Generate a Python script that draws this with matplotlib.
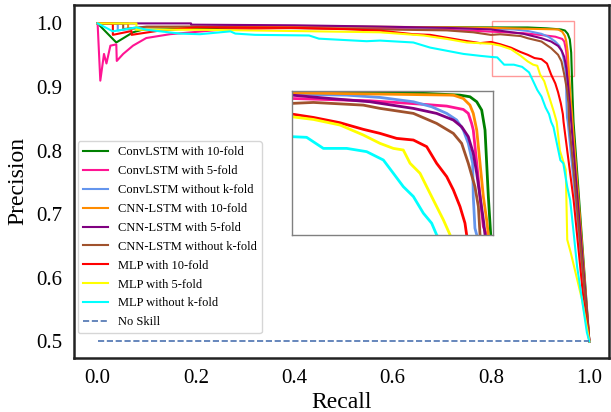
import matplotlib
matplotlib.use("Agg")
import matplotlib.pyplot as plt
from matplotlib.patches import Rectangle

plt.rcParams['font.family'] = ['Liberation Serif', 'DejaVu Serif']

labels = ['ConvLSTM with 10-fold', 'ConvLSTM with 5-fold', 'ConvLSTM without k-fold',
          'CNN-LSTM with 10-fold', 'CNN-LSTM with 5-fold', 'CNN-LSTM without k-fold',
          'MLP with 10-fold', 'MLP with 5-fold', 'MLP without k-fold']
colors = ['green', 'deeppink', 'cornflowerblue', 'darkorange', 'purple', 'sienna',
          'red', 'yellow', 'cyan']

# recall / precision
conv10_r = [0, 0.038, 0.072, 0.089, 0.15, 0.30, 0.50, 0.70, 0.838, 0.8745, 0.9138, 0.9419,
            0.9503, 0.9560, 0.9602, 0.9630, 0.9644, 0.9658, 0.9678, 1.0]
conv10_p = [1.0, 0.970, 0.986, 0.9896, 0.991, 0.993, 0.994, 0.994, 0.9936, 0.9936, 0.9922, 0.9905,
            0.9888, 0.9836, 0.9749, 0.9542, 0.9196, 0.8850, 0.8452, 0.5]

conv5_r = [0, 0.0055, 0.013, 0.018, 0.026, 0.038, 0.039, 0.052, 0.072, 0.099, 0.147, 0.25, 0.40,
           0.60, 0.75, 0.80, 0.866, 0.9082, 0.9307, 0.9447, 0.9489, 0.9517, 0.9531, 0.9560,
           0.9588, 0.9616, 0.9644, 1.0]
conv5_p = [1.0, 0.910, 0.952, 0.937, 0.965, 0.967, 0.941, 0.952, 0.965, 0.977, 0.983, 0.990, 0.993,
           0.992, 0.989, 0.9870, 0.9846, 0.9812, 0.9791, 0.9756, 0.9715, 0.9611, 0.9542, 0.9196,
           0.8850, 0.8538, 0.8452, 0.5]

convno_r = [0, 0.041, 0.041, 0.10, 0.30, 0.50, 0.70, 0.80, 0.8464, 0.8745, 0.9026, 0.9180, 0.9307,
            0.9391, 0.9447, 0.9489, 0.9526, 0.9531, 0.9545, 0.9560, 1.0]
convno_p = [1.0, 1.0, 0.989, 0.994, 0.995, 0.995, 0.993, 0.9915, 0.9905, 0.9881, 0.9836, 0.9784,
            0.9715, 0.9646, 0.9542, 0.9403, 0.9196, 0.8850, 0.8521, 0.8452, 0.5]

cnn10_r = [0, 0.062, 0.062, 0.10, 0.30, 0.50, 0.70, 0.80, 0.9363, 0.9447, 0.9503, 0.9531, 0.9560,
           0.9588, 0.9616, 0.9644, 0.9658, 1.0]
cnn10_p = [1.0, 1.0, 0.991, 0.994, 0.995, 0.995, 0.994, 0.9929, 0.9905, 0.9870, 0.9801, 0.9715,
           0.9542, 0.9196, 0.8850, 0.8607, 0.8452, 0.5]

cnn5_r = [0, 0.19, 0.19, 0.40, 0.574, 0.71, 0.80, 0.8323, 0.8660, 0.9026, 0.9222, 0.9363, 0.9433,
          0.9489, 0.9531, 0.9560, 0.9588, 0.9616, 0.9630, 1.0]
cnn5_p = [1.0, 1.0, 0.998, 0.997, 0.995, 0.993, 0.9905, 0.9870, 0.9836, 0.9767, 0.9715, 0.9646,
          0.9576, 0.9473, 0.9300, 0.9092, 0.8850, 0.8607, 0.8452, 0.5]

cnnno_r = [0, 0.052, 0.052, 0.10, 0.19, 0.35, 0.574, 0.71, 0.764, 0.80, 0.8183, 0.8604, 0.8745,
           0.9026, 0.9222, 0.9363, 0.9433, 0.9489, 0.9545, 0.9574, 0.9588, 1.0]
cnnno_p = [1.0, 1.0, 0.991, 0.995, 0.995, 0.993, 0.9905, 0.989, 0.986, 0.9819, 0.9829, 0.9801,
           0.9767, 0.9715, 0.9611, 0.9507, 0.9403, 0.9196, 0.8953, 0.8746, 0.8452, 0.5]

mlp10_r = [0, 0.031, 0.031, 0.069, 0.069, 0.12, 0.20, 0.40, 0.50, 0.574, 0.642, 0.676, 0.744, 0.778,
           0.80, 0.8183, 0.8407, 0.8604, 0.8745, 0.8885, 0.9026, 0.9138, 0.9222, 0.9307, 0.9363,
           0.9419, 0.9461, 0.9475, 0.955, 0.968, 0.988, 1.0]
mlp10_p = [1.0, 1.0, 0.982, 0.988, 0.982, 0.988, 0.9937, 0.993, 0.991, 0.9886, 0.983, 0.982, 0.973,
           0.969, 0.9708, 0.9673, 0.9618, 0.9549, 0.9507, 0.9455, 0.9438, 0.9369, 0.9196, 0.9057,
           0.8919, 0.8746, 0.8573, 0.8452, 0.80, 0.722, 0.566, 0.5]

mlp5_r = [0, 0.079, 0.079, 0.20, 0.40, 0.574, 0.663, 0.71, 0.751, 0.80, 0.8183, 0.8407, 0.8604,
          0.8745, 0.8857, 0.8941, 0.8998, 0.9082, 0.9138, 0.9208, 0.9279, 0.9335, 0.94, 0.952,
          0.955, 0.962, 0.985, 1.0]
mlp5_p = [1.0, 1.0, 0.990, 0.990, 0.988, 0.986, 0.981, 0.9756, 0.970, 0.9680, 0.9652, 0.9594,
          0.9490, 0.9403, 0.9351, 0.9334, 0.9196, 0.9092, 0.8953, 0.8781, 0.8607, 0.8452, 0.80,
          0.77, 0.66, 0.64, 0.566, 0.5]

mlpno_r = [0, 0.031, 0.079, 0.10, 0.167, 0.208, 0.27, 0.28, 0.32, 0.43, 0.45, 0.547, 0.574, 0.642,
           0.676, 0.71, 0.744, 0.778, 0.80, 0.8126, 0.8267, 0.8464, 0.8632, 0.8773, 0.8857, 0.8941,
           0.9026, 0.9110, 0.9180, 0.9222, 0.927, 0.941, 0.947, 0.955, 0.961, 0.968, 0.975, 0.985,
           0.995, 1.0]
mlpno_p = [1.0, 0.9875, 0.9937, 0.990, 0.984, 0.983, 0.9875, 0.984, 0.982, 0.981, 0.976, 0.972,
           0.973, 0.970, 0.962, 0.957, 0.952, 0.949, 0.9473, 0.9466, 0.9351, 0.9351, 0.9317, 0.9230,
           0.9092, 0.8953, 0.8850, 0.8677, 0.8573, 0.8452, 0.837, 0.785, 0.78, 0.743, 0.722, 0.671,
           0.618, 0.566, 0.514, 0.5]

recalls = [conv10_r, conv5_r, convno_r, cnn10_r, cnn5_r, cnnno_r, mlp10_r, mlp5_r, mlpno_r]
precisions = [conv10_p, conv5_p, convno_p, cnn10_p, cnn5_p, cnnno_p, mlp10_p, mlp5_p, mlpno_p]

no_skill_x = [0, 1]
no_skill_y = [0.5, 0.5]

zoom_x = (0.8, 0.97)
zoom_y = (0.845, 0.995)
rect_x = (0.803, 0.968)
rect_y = (0.918, 1.004)

fig = plt.figure(figsize=(6.11, 4.12), dpi=100)
ax = fig.add_axes([0.1203, 0.131, 0.8765, 0.857])

for r, p, c, lab in zip(recalls, precisions, colors, labels):
    ax.plot(r, p, color=c, lw=1.5, label=lab)
ax.plot(no_skill_x, no_skill_y, ls='--', color='#4c72b0', lw=1.2, label='No Skill')

ax.add_patch(Rectangle((rect_x[0], rect_y[0]), rect_x[1] - rect_x[0], rect_y[1] - rect_y[0],
                       fill=False, edgecolor='red', alpha=0.4, lw=1.0))

ax.set_xlim(-0.049, 1.040)
ax.set_ylim(0.474, 1.029)
ax.set_xticks([0.0, 0.2, 0.4, 0.6, 0.8, 1.0])
ax.set_yticks([0.5, 0.6, 0.7, 0.8, 0.9, 1.0])
ax.tick_params(length=0, labelsize=15, pad=8)
ax.set_xlabel('Recall', fontsize=17, labelpad=3)
ax.set_ylabel('Precision', fontsize=17, labelpad=6)
for s in ax.spines.values():
    s.set_linewidth(1.8)
    s.set_color('#222222')

leg = ax.legend(loc='lower left', bbox_to_anchor=(0.008, 0.07), borderaxespad=0,
                fontsize=9, labelspacing=0.55, framealpha=0.8, edgecolor='#cccccc',
                fancybox=True)

axin = fig.add_axes([0.4774, 0.4296, 0.330, 0.350])
for r, p, c in zip(recalls, precisions, colors):
    axin.plot(r, p, color=c, lw=2.0)
axin.set_xlim(*zoom_x)
axin.set_ylim(*zoom_y)
axin.set_xticks([])
axin.set_yticks([])
for s in axin.spines.values():
    s.set_color('#808080')
    s.set_linewidth(1.0)

fig.savefig('out.png', dpi=100)
